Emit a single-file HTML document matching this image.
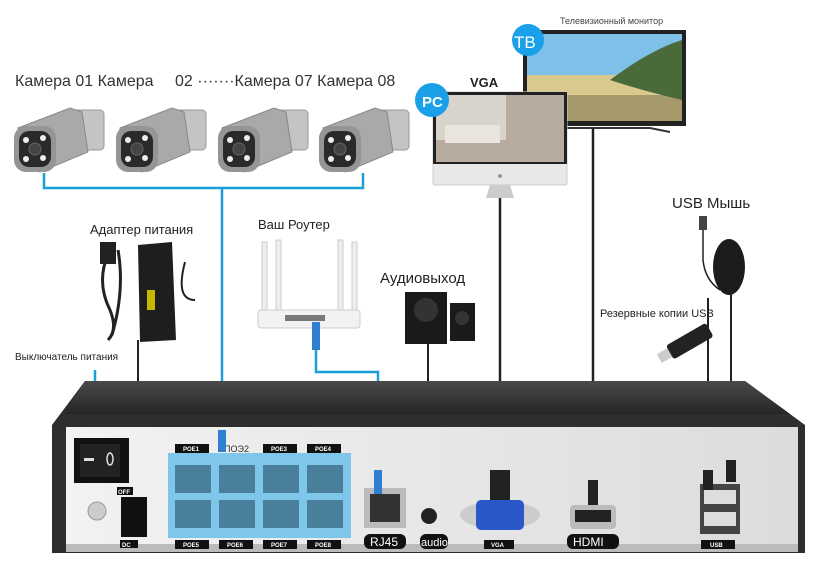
<!DOCTYPE html>
<html><head><meta charset="utf-8"><style>
html,body{margin:0;padding:0;background:#fff}
svg{display:block}
text{font-family:"Liberation Sans",sans-serif}
</style></head><body>
<svg width="820" height="573" viewBox="0 0 820 573" xmlns="http://www.w3.org/2000/svg">
<defs>
<linearGradient id="top" x1="0" y1="0" x2="0" y2="1"><stop offset="0" stop-color="#4a4a4a"/><stop offset="1" stop-color="#262626"/></linearGradient>
<linearGradient id="pan" x1="0" y1="0" x2="1" y2="0"><stop offset="0" stop-color="#f2f2f2"/><stop offset="1" stop-color="#dcdcdc"/></linearGradient>
<g id="cam">
  <rect x="60" y="10" width="34" height="40" rx="4" fill="#c4c4c4" stroke="#999"/>
  <rect x="50" y="22" width="20" height="14" fill="#b0b0b0"/>
  <polygon points="8,28 60,8 72,12 78,52 30,72 10,66" fill="#a9a9a9" stroke="#888"/>
  <rect x="4" y="26" width="42" height="46" rx="12" fill="#959595"/>
  <rect x="9" y="31" width="32" height="36" rx="10" fill="#2a2a2a"/>
  <circle cx="25" cy="49" r="6" fill="#444" stroke="#666"/>
  <circle cx="16" cy="40" r="3" fill="#eee"/><circle cx="33" cy="38" r="3" fill="#eee"/>
  <circle cx="16" cy="59" r="3" fill="#eee"/><circle cx="33" cy="58" r="3" fill="#eee"/>
</g>
</defs>
<text x="15" y="86" font-size="16" fill="#333">Камера 01 Камера</text>
<text x="175" y="86" font-size="16" fill="#333">02 ·······Камера 07 Камера 08</text>
<use href="#cam" x="10" y="100"/>
<use href="#cam" x="112" y="100"/>
<use href="#cam" x="214" y="100"/>
<use href="#cam" x="315" y="100"/>
<path d="M44 173 V188 H363 V173 M222 188 V448" fill="none" stroke="#1aa0d8" stroke-width="2.5"/>

<text x="560" y="24" font-size="9" fill="#444">Телевизионный монитор</text>
<rect x="523" y="30" width="163" height="96" fill="#222"/>
<rect x="527" y="34" width="155" height="87" fill="#7fc0e8"/>
<rect x="527" y="75" width="155" height="20" fill="#d9c98f"/>
<rect x="527" y="95" width="155" height="26" fill="#a79a6a"/>
<path d="M610 80 Q650 50 682 40 V100 Q640 90 610 80Z" fill="#4a6a3a"/>
<path d="M560 128 H650 L670 132" stroke="#333" stroke-width="2" fill="none"/>
<circle cx="528" cy="40" r="16" fill="#1aa0e8"/>
<text x="514" y="48" font-size="17" fill="#fff">TB</text>
<text x="470" y="87" font-size="13" font-weight="bold" fill="#222">VGA</text>
<rect x="433" y="92" width="134" height="93" rx="2" fill="#e8e8e8" stroke="#ccc"/>
<rect x="433" y="92" width="134" height="72" fill="#222"/>
<rect x="436" y="95" width="128" height="67" fill="#b8aca0"/>
<rect x="436" y="95" width="70" height="45" fill="#d8d4cc"/>
<rect x="445" y="125" width="55" height="18" fill="#e9e5de"/>
<circle cx="500" cy="176" r="2" fill="#999"/>
<polygon points="490,185 510,185 514,198 486,198" fill="#ccc"/>
<circle cx="432" cy="100" r="17" fill="#1aa0e8"/>
<text x="422" y="107" font-size="15" font-weight="bold" fill="#fff">PC</text>

<text x="672" y="208" font-size="15" fill="#222">USB Мышь</text>
<path d="M703 226 V260 Q705 280 720 290" stroke="#222" stroke-width="1.5" fill="none"/>
<rect x="699" y="216" width="8" height="14" fill="#444"/>
<ellipse cx="729" cy="267" rx="16" ry="28" fill="#1c1c1c"/>
<text x="600" y="317" font-size="11" fill="#222">Резервные копии USB</text>
<g transform="rotate(-30 685 345)"><rect x="668" y="336" width="46" height="16" rx="3" fill="#222"/><rect x="656" y="339" width="12" height="10" fill="#ccc"/></g>

<text x="90" y="234" font-size="13" fill="#222">Адаптер питания</text>
<path d="M110 250 Q95 280 110 310 Q118 330 108 340 M118 250 Q125 290 112 335" stroke="#222" stroke-width="3" fill="none"/>
<rect x="100" y="242" width="16" height="22" fill="#222"/>
<polygon points="138,245 172,242 176,340 140,342" fill="#1e1e1e"/>
<rect x="147" y="290" width="8" height="20" fill="#c9b800"/>
<path d="M185 262 Q175 300 195 300" stroke="#222" stroke-width="2" fill="none"/>
<text x="15" y="360" font-size="10" fill="#222">Выключатель питания</text>
<path d="M95 370 V450" stroke="#1aa0d8" stroke-width="2.5"/>
<path d="M138 340 V470" stroke="#222" stroke-width="2"/>

<text x="258" y="229" font-size="13" fill="#222">Ваш Роутер</text>
<rect x="262" y="242" width="5" height="72" fill="#eee" stroke="#ccc"/>
<rect x="276" y="240" width="5" height="72" fill="#eee" stroke="#ccc"/>
<rect x="338" y="240" width="5" height="72" fill="#eee" stroke="#ccc"/>
<rect x="352" y="242" width="5" height="72" fill="#eee" stroke="#ccc"/>
<rect x="258" y="310" width="102" height="18" rx="3" fill="#f2f2f2" stroke="#ccc"/>
<rect x="285" y="315" width="40" height="6" fill="#777"/>
<path d="M316 322 V372 H378 V470" fill="none" stroke="#1aa0d8" stroke-width="2.5"/>
<rect x="312" y="322" width="8" height="28" fill="#2f7fd0"/>

<text x="380" y="283" font-size="15" fill="#222">Аудиовыход</text>
<rect x="405" y="292" width="42" height="52" fill="#1a1a1a"/>
<circle cx="426" cy="310" r="12" fill="#333"/>
<rect x="450" y="303" width="25" height="38" fill="#1a1a1a"/>
<circle cx="462" cy="318" r="7" fill="#333"/>
<path d="M428 344 V520" stroke="#222" stroke-width="2"/>

<path d="M500 198 V480" stroke="#222" stroke-width="2.5"/>
<path d="M593 128 V480" stroke="#222" stroke-width="2.5"/>
<path d="M708 298 V480 M731 290 V470" stroke="#222" stroke-width="2"/>

<polygon points="85,381 745,381 805,425 805,553 52,553 52,425" fill="#2e2e2e"/>
<polygon points="85,381 745,381 790,414 64,414" fill="url(#top)"/>
<rect x="66" y="427" width="732" height="124" fill="url(#pan)"/>
<rect x="66" y="544" width="732" height="8" fill="#bbb"/>
<rect x="74" y="438" width="55" height="45" fill="#111"/>
<rect x="80" y="444" width="40" height="33" fill="#222"/>
<rect x="84" y="458" width="10" height="3" fill="#ddd"/>
<ellipse cx="110" cy="459" rx="3" ry="6" fill="none" stroke="#ddd" stroke-width="1.5"/>
<rect x="117" y="487" width="16" height="8" fill="#111"/><text x="118" y="494" font-size="6" fill="#fff" font-weight="bold">OFF</text>
<circle cx="97" cy="511" r="9" fill="#ccc" stroke="#999"/>
<rect x="121" y="497" width="26" height="40" fill="#111"/>
<rect x="120" y="540" width="18" height="8" fill="#111"/><text x="122" y="547" font-size="6" fill="#fff" font-weight="bold">DC</text>
<rect x="168" y="453" width="183" height="85" fill="#7ec6ea"/>
<g fill="#4a7f9c">
<rect x="175" y="465" width="36" height="28"/><rect x="219" y="465" width="36" height="28"/><rect x="263" y="465" width="36" height="28"/><rect x="307" y="465" width="36" height="28"/>
<rect x="175" y="500" width="36" height="28"/><rect x="219" y="500" width="36" height="28"/><rect x="263" y="500" width="36" height="28"/><rect x="307" y="500" width="36" height="28"/>
</g>
<g fill="#111"><rect x="175" y="444" width="34" height="9"/><rect x="263" y="444" width="34" height="9"/><rect x="307" y="444" width="34" height="9"/>
<rect x="175" y="540" width="34" height="9"/><rect x="219" y="540" width="34" height="9"/><rect x="263" y="540" width="34" height="9"/><rect x="307" y="540" width="34" height="9"/></g>
<g font-size="6" fill="#fff" font-weight="bold"><text x="183" y="451">POE1</text><text x="271" y="451">POE3</text><text x="315" y="451">POE4</text>
<text x="183" y="547">POE5</text><text x="227" y="547">POE6</text><text x="271" y="547">POE7</text><text x="315" y="547">POE8</text></g>
<text x="224" y="452" font-size="9" fill="#333">ПОЭ2</text>
<rect x="218" y="430" width="8" height="22" fill="#2f7fd0"/>
<rect x="364" y="488" width="42" height="40" fill="#bbb"/><rect x="370" y="494" width="30" height="28" fill="#333"/>
<rect x="374" y="470" width="8" height="24" fill="#2f7fd0"/>
<rect x="364" y="534" width="42" height="15" rx="6" fill="#111"/><text x="370" y="546" font-size="12" fill="#fff">RJ45</text>
<circle cx="429" cy="516" r="8" fill="#222"/>
<rect x="420" y="534" width="28" height="15" rx="6" fill="#111"/><text x="421" y="546" font-size="11" fill="#fff">audio</text>
<ellipse cx="500" cy="515" rx="40" ry="14" fill="#ccc"/>
<rect x="476" y="500" width="48" height="30" rx="5" fill="#2a58c8"/>
<rect x="490" y="470" width="20" height="30" fill="#222"/>
<rect x="484" y="540" width="30" height="9" fill="#111"/><text x="491" y="547" font-size="6" fill="#fff" font-weight="bold">VGA</text>
<rect x="570" y="505" width="46" height="24" rx="4" fill="#bbb"/><rect x="575" y="510" width="36" height="12" fill="#222"/>
<rect x="588" y="480" width="10" height="25" fill="#222"/>
<rect x="567" y="534" width="52" height="15" rx="6" fill="#111"/><text x="573" y="546" font-size="12" fill="#fff">HDMI</text>
<rect x="700" y="484" width="40" height="50" fill="#444"/>
<rect x="704" y="490" width="32" height="14" fill="#ddd"/><rect x="704" y="512" width="32" height="14" fill="#ddd"/>
<rect x="703" y="470" width="10" height="20" fill="#222"/><rect x="726" y="460" width="10" height="22" fill="#222"/>
<rect x="701" y="540" width="34" height="9" fill="#111"/><text x="710" y="547" font-size="6" fill="#fff" font-weight="bold">USB</text>
</svg>
</body></html>
